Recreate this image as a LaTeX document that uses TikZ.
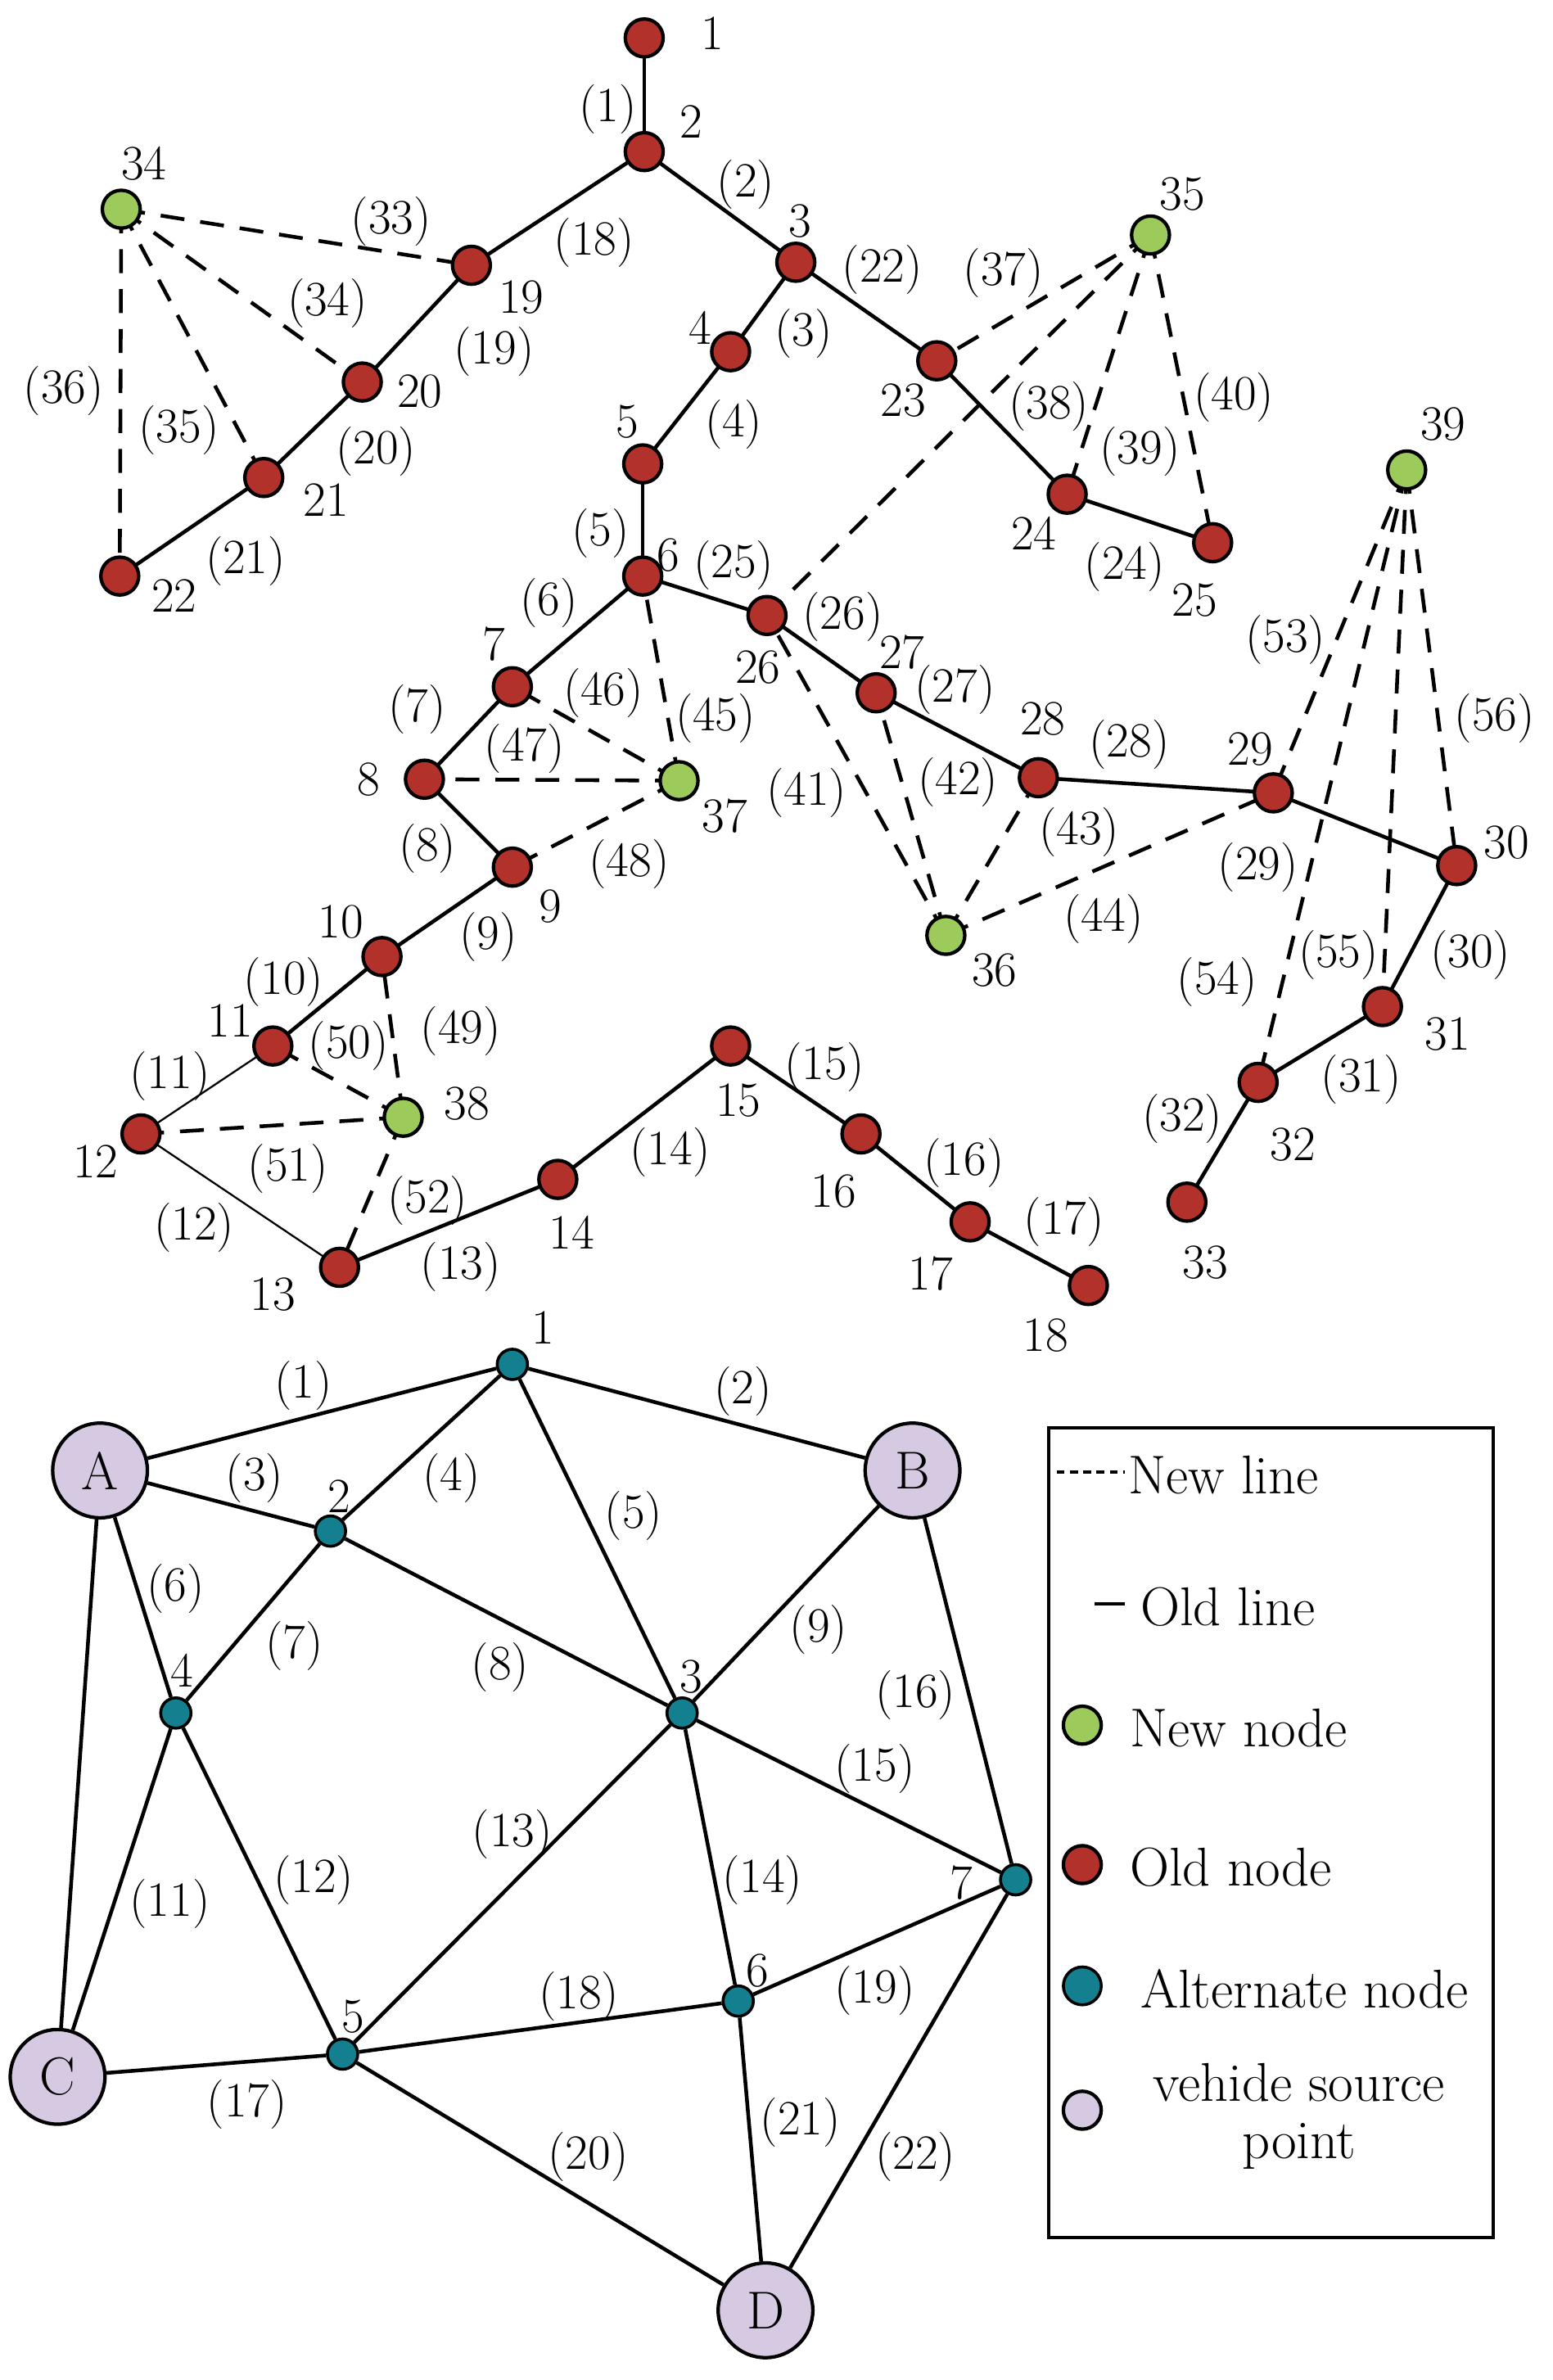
\documentclass[tikz,border=0pt]{standalone}
\begin{document}
\begin{tikzpicture}[x=0.02cm,y=-0.02cm,
 old/.style={circle,draw=black,line width=1.3pt,fill=oldred,minimum size=0.5cm,inner sep=0pt},
 new/.style={circle,draw=black,line width=1.3pt,fill=newgreen,minimum size=0.5cm,inner sep=0pt},
 alt/.style={circle,draw=black,line width=1.1pt,fill=altblue,minimum size=0.4cm,inner sep=0pt},
 src/.style={circle,draw=black,line width=1.3pt,fill=srcpurple,minimum size=1.25cm,inner sep=0pt,font=\fontsize{20}{22}\selectfont},
 oe/.style={line width=1.4pt},
 ne/.style={line width=1.4pt,dash pattern=on 9pt off 6pt},
 thin/.style={line width=0.7pt},
 lb/.style={font=\fontsize{18.5}{21}\selectfont,inner sep=0pt},
 lg/.style={font=\fontsize{20.5}{24}\selectfont,inner sep=0pt}]
\definecolor{oldred}{HTML}{B3312B}
\definecolor{newgreen}{HTML}{9CCB5C}
\definecolor{altblue}{HTML}{14808F}
\definecolor{srcpurple}{HTML}{D6C9E2}
\useasboundingbox (0,0) rectangle (1024,1570);
% top nodes
\foreach \n/\x/\y in {1/425/25,2/425/100,3/525/173,4/482/232,5/424/306,6/424/380,7/338/453,8/280/514,9/338/572,10/252/631,11/180/690,12/93/748,13/224/836,14/368/778,15/482/690,16/568/748,17/640/806,18/718/848,19/311/175,20/239/252,21/174/315,22/79/380,23/618/238,24/704/326,25/800/358,26/506/406,27/578/457,28/685/513,29/840/523,30/961/571,31/912/664,32/830/714,33/783/793}
  \coordinate (t\n) at (\x,\y);
\foreach \n/\x/\y in {34/80/138,35/759/155,36/624/617,37/448/515,38/266/737,39/928/310}
  \coordinate (t\n) at (\x,\y);
% solid old edges
\foreach \a/\b in {1/2,2/3,3/4,4/5,5/6,6/7,7/8,8/9,9/10,10/11,13/14,14/15,15/16,16/17,17/18,2/19,19/20,20/21,21/22,3/23,23/24,24/25,6/26,26/27,27/28,28/29,29/30,30/31,31/32,32/33}
  \draw[oe] (t\a) -- (t\b);
\draw[thin] (t11) -- (t12);
\draw[thin] (t12) -- (t13);
% dashed new edges
\foreach \a/\b in {34/19,34/20,34/21,34/22,35/23,35/24,35/25,35/26,37/6,37/7,37/8,37/9,36/26,36/27,36/28,36/29,38/10,38/11,38/12,38/13,39/29,39/30,39/31,39/32}
  \draw[ne] (t\a) -- (t\b);
\foreach \n in {1,...,33} \node[old] at (t\n) {};
\foreach \n in {34,...,39} \node[new] at (t\n) {};
% node numbers
\foreach \n/\x/\y in {1/470/22,2/456/80,3/528/146,4/462/216,5/414/278,6/441/366,7/326/425,8/243/514,9/363/598,10/225/608,11/152/673,12/63/766,13/180/854,14/377/813,15/487/726,16/550/786,17/614/840,18/690/881,19/344/196,20/277/258,21/215/330,22/115/393,23/596/264,24/682/352,25/788/396,26/500/440,27/595/430,28/688/474,29/825/494,30/994/556,31/955/682,32/853/755,33/795/833,34/95/108,35/780/128,36/656/640,37/478/538,38/308/728,39/952/280}
  \node[lb] (nl\n) at (\x,\y) {\n};
% edge labels
\foreach \n/\x/\y in {1/401/72,2/492/122,3/530/220,4/484/280,5/396/352,6/362/398,7/275/468,8/282/560,9/322/618,10/187/648,11/112/710,12/128/810,13/304/836,14/442/760,15/544/704,16/636/767,17/702/806,18/392/160,19/326/232,20/248/298,21/162/370,22/582/178,24/742/374,25/484/373,26/556/407,27/630/455,28/745/491,29/830/572,30/970/630,31/898/712,32/780/738,33/258/146,34/216/200,35/118/284,36/42/258,37/662/180,38/692/268,39/752/298,40/814/262,41/532/523,42/632/516,43/712/549,44/728/606,45/472/474,46/398/457,47/346/494,48/415/570,49/304/680,50/230/690,51/190/771,52/282/792,53/848/422,54/803/648,55/883/630,56/986/474}
  \node[lb] (el\n) at (\x,\y) {(\n)};
% bottom graph
\node[src] (A) at (66,970) {A};
\node[src] (B) at (602,970) {B};
\node[src] (C) at (38,1370) {C};
\node[src] (D) at (505,1524) {D};
\foreach \n/\x/\y in {1/338/900,2/218/1010,3/450/1130,4/116/1130,5/226/1355,6/487/1320,7/670/1240}
  \node[alt] (b\n) at (\x,\y) {};
\foreach \a/\b in {A/b1,b1/B,A/b2,b1/b2,b1/b3,A/b4,b2/b4,b2/b3,b3/B,A/C,b4/C,b4/b5,b5/b3,b3/b6,b3/b7,B/b7,C/b5,b5/b6,b6/b7,b5/D,b6/D,b7/D}
  \draw[oe] (\a) -- (\b);
\foreach \n/\x/\y in {1/358/876,2/224/987,3/456/1106,4/120/1102,5/233/1330,6/500/1300,7/634/1242}
  \node[lb] (bn\n) at (\x,\y) {\n};
\foreach \n/\x/\y in {1/200/914,2/490/918,3/168/975,4/298/975,5/418/1000,6/116/1048,7/194/1086,8/330/1100,9/540/1075,11/112/1256,12/207/1240,13/338/1210,14/503/1240,15/577/1167,16/604/1118,17/163/1388,18/382/1317,19/577/1313,20/388/1423,21/528/1400,22/604/1423}
  \node[lb] (be\n) at (\x,\y) {(\n)};
% legend
\draw[line width=1.3pt] (692,942) rectangle (985,1476);
\coordinate (l1a) at (697,971); \coordinate (l1b) at (742,971);
\draw[line width=1.3pt,dash pattern=on 3pt off 2pt] (l1a) -- (l1b);
\node[lg,anchor=west] at (744,973) {New line};
\coordinate (l2a) at (722,1058); \coordinate (l2b) at (742,1058);
\draw[oe] (l2a) -- (l2b);
\node[lg,anchor=west] at (752,1060) {Old line};
\node[new] at (714,1138) {};
\node[lg,anchor=west] at (745,1140) {New node};
\node[old] at (714,1230) {};
\node[lg,anchor=west] at (745,1232) {Old node};
\node[alt,minimum size=0.5cm] at (714,1310) {};
\node[lg,anchor=west] at (752,1312) {Alternate node};
\node[circle,draw=black,line width=1.3pt,fill=srcpurple,minimum size=0.5cm] at (714,1392) {};
\node[lg] at (857,1374) {vehide source};
\node[lg] at (857,1416) {point};
\end{tikzpicture}
\end{document}
